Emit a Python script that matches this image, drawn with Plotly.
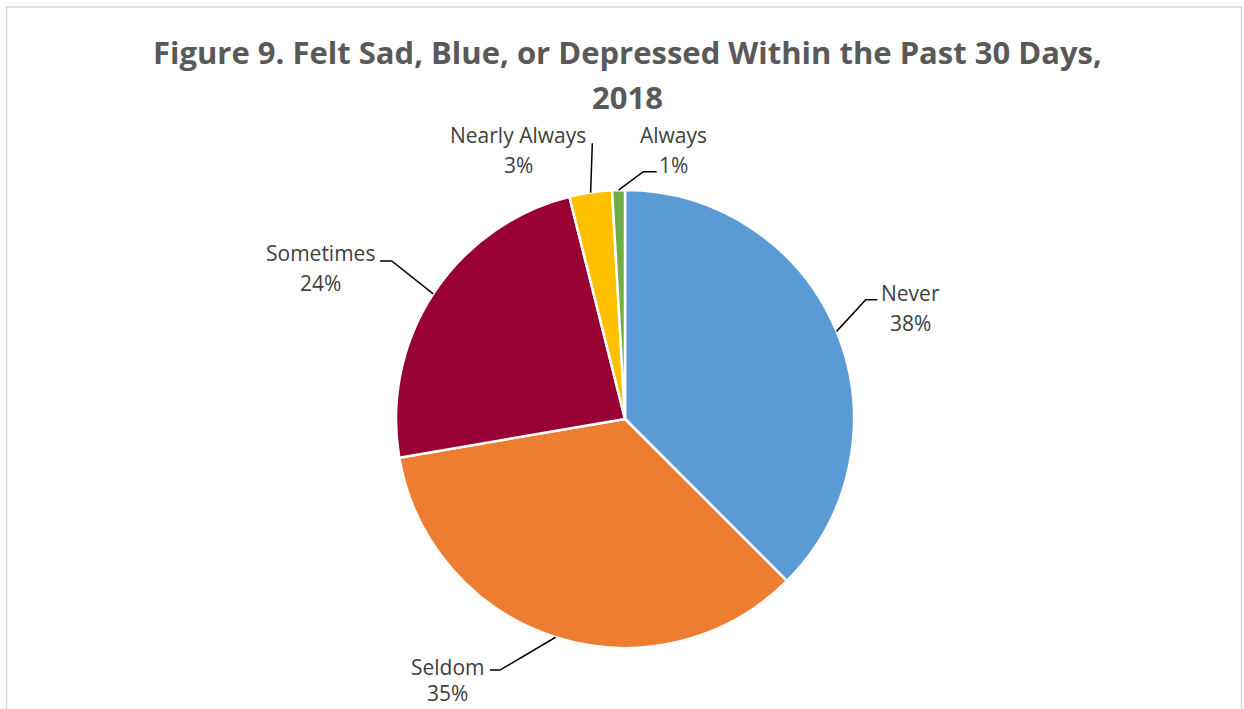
import math
import plotly.graph_objects as go

# ---------------- data ----------------
categories = ["Never", "Seldom", "Sometimes", "Nearly Always", "Always"]
values = [37.5, 34.8, 23.8, 3.0, 0.9]
colors = ["#5B9BD5", "#ED7D31", "#990033", "#FFC000", "#70AD47"]
title_lines = ["Figure 9. Felt Sad, Blue, or Depressed Within the Past 30 Days,", "2018"]

# ---------------- layout config ----------------
W, H = 1244, 709
CX, CY, R = 625, 419, 229          # pie centre / radius (px)
label_nudge = [1.2, 16.35, -6.7, -13.05, 11.94]   # deg offset from slice mid-angle
label_rf = [1.336, 1.383, 1.483, 1.264, 1.194]    # label distance in radii
leader_elbow = [(-44.3, -8), (52, -11.5), (70.9, -7), (74.3, -6.7), (-30.7, 21.7)]
leader_end = [(-32.7, -8), (42, -11.5), (59.2, -7), (74.3, -6.7), (-17.3, 21.7)]
LINE_PITCH = 30
LAB_SIZE = 21


def px(x, y):
    return x / W, 1 - y / H


fig = go.Figure()
fig.add_trace(go.Pie(
    labels=categories, values=values, sort=False, direction="clockwise", rotation=0,
    marker=dict(colors=colors, line=dict(color="white", width=2.5)),
    textinfo="none", showlegend=False, hoverinfo="label+percent",
    domain=dict(x=[(CX - R) / W, (CX + R) / W], y=[1 - (CY + R) / H, 1 - (CY - R) / H]),
))

total = sum(values)
annotations = []
shapes = []
cum = 0.0
lab_font = dict(family="Open Sans, Calibri, sans-serif", size=LAB_SIZE, color="#404040")
for i, (name, v) in enumerate(zip(categories, values)):
    mid = (cum + v / 2) / total * 360
    cum += v
    a = math.radians(mid + label_nudge[i])
    lx = CX + R * label_rf[i] * math.sin(a)
    ly = CY - R * label_rf[i] * math.cos(a)
    pct = f"{v / total * 100:.0f}%"
    for txt, dy in ((name, -LINE_PITCH / 2), (pct, LINE_PITCH / 2)):
        yy = min(ly + dy, H - 0.7 * LAB_SIZE - 1)   # keep text box inside the page
        x, y = px(lx, yy)
        annotations.append(dict(x=x, y=y, xref="paper", yref="paper", text=txt,
                                showarrow=False, xanchor="center", yanchor="middle",
                                font=lab_font))
    am = math.radians(mid)
    ex, ey = CX + R * math.sin(am), CY - R * math.cos(am)
    pts = [(ex, ey), (lx + leader_elbow[i][0], ly + leader_elbow[i][1]),
           (lx + leader_end[i][0], ly + leader_end[i][1])]
    path = "M " + " L ".join("%.5f,%.5f" % px(*p) for p in pts)
    shapes.append(dict(type="path", path=path, xref="paper", yref="paper",
                       line=dict(color="black", width=1.5)))

# title
for txt, yc in zip(title_lines, (52, 97)):
    x, y = px(628, yc)
    annotations.append(dict(x=x, y=y, xref="paper", yref="paper", text=txt, showarrow=False,
                            xanchor="center", yanchor="middle",
                            font=dict(family="Open Sans, Calibri, sans-serif", size=31,
                                      color="#595959", weight=700)))

# chart border
x0, y0 = px(6.5, 7)
x1, _ = px(1241.5, 7)
shapes.append(dict(type="rect", xref="paper", yref="paper", x0=x0, x1=x1, y0=-0.1, y1=y0,
                   line=dict(color="#D9D9D9", width=1.5), fillcolor="rgba(0,0,0,0)", layer="below"))

fig.update_layout(width=W, height=H, margin=dict(l=0, r=0, t=0, b=0),
                  paper_bgcolor="white", plot_bgcolor="white",
                  annotations=annotations, shapes=shapes)
fig.write_html("out.html")
